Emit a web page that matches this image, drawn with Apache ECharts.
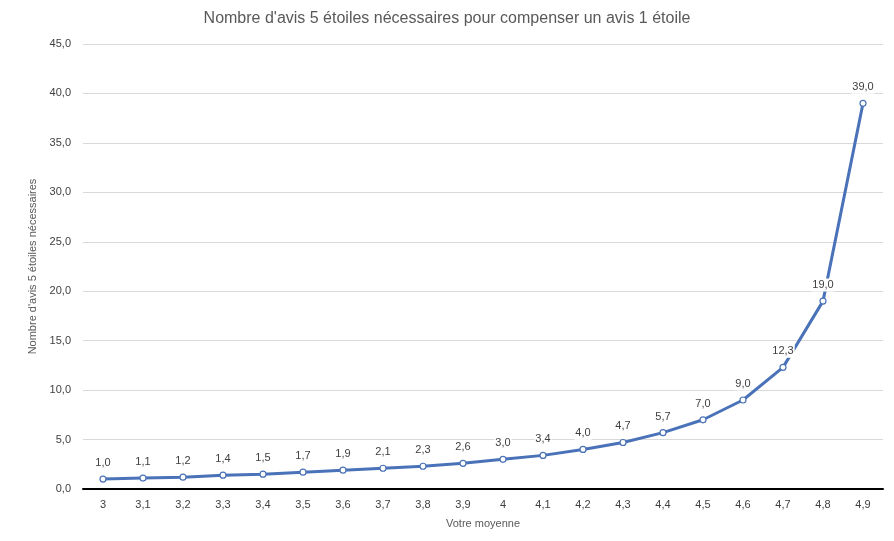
<!DOCTYPE html>
<html>
<head>
<meta charset="utf-8">
<script src="https://cdn.jsdelivr.net/npm/echarts@6/dist/echarts.min.js"></script>
<style>
  html, body { margin: 0; padding: 0; background: #fff; }
  #chart { width: 894px; height: 541px; }
</style>
</head>
<body>
<div id="chart"></div>
<script>
// moyenne actuelle
const moyennes = ['3', '3,1', '3,2', '3,3', '3,4', '3,5', '3,6', '3,7', '3,8', '3,9',
  '4', '4,1', '4,2', '4,3', '4,4', '4,5', '4,6', '4,7', '4,8', '4,9'];
// nombre d'avis 5 étoiles nécessaires
const avisNecessaires = [1.0, 1.1, 1.2, 1.4, 1.5, 1.7, 1.9, 2.1, 2.3, 2.6,
  3.0, 3.4, 4.0, 4.7, 5.7, 7.0, 9.0, 12.3, 19.0, 39.0];

const fr = v => v.toFixed(1).replace('.', ',');
const police = '"Liberation Sans", Arial, sans-serif';

const chart = echarts.init(document.getElementById('chart'));
chart.setOption({
  animation: false,
  textStyle: { fontFamily: police },
  title: {
    text: "Nombre d'avis 5 étoiles nécessaires pour compenser un avis 1 étoile",
    left: 'center',
    top: 6,
    textStyle: { fontSize: 16, fontWeight: 'normal', color: '#595959', fontFamily: police }
  },
  grid: { left: 83, right: 11, top: 44, bottom: 52 },
  xAxis: {
    type: 'category',
    data: moyennes,
    boundaryGap: true,
    name: 'Votre moyenne',
    nameLocation: 'middle',
    nameGap: 29,
    nameTextStyle: { fontSize: 11, color: '#595959' },
    axisLine: { lineStyle: { color: '#000', width: 2 } },
    axisTick: { show: false },
    axisLabel: { fontSize: 11, color: '#404040', margin: 10 }
  },
  yAxis: {
    type: 'value',
    min: 0,
    max: 45,
    interval: 5,
    name: "Nombre d'avis 5 étoiles nécessaires",
    nameLocation: 'middle',
    nameGap: 40,
    nameTextStyle: { fontSize: 11, color: '#595959' },
    axisLine: { show: false },
    axisTick: { show: false },
    axisLabel: { fontSize: 11, color: '#404040', formatter: fr, margin: 12 },
    splitLine: { lineStyle: { color: '#d9d9d9', width: 1 } }
  },
  series: [{
    type: 'line',
    data: avisNecessaires,
    symbol: 'circle',
    symbolSize: 6,
    lineStyle: { color: '#4a72b8', width: 3 },
    itemStyle: { color: '#fff', borderColor: '#4a72b8', borderWidth: 1.2 },
    label: {
      show: true,
      position: 'top',
      distance: 6,
      fontSize: 11,
      color: '#404040',
      backgroundColor: '#fff',
      padding: [1, 1],
      formatter: p => fr(p.value)
    }
  }]
});
</script>
</body>
</html>
